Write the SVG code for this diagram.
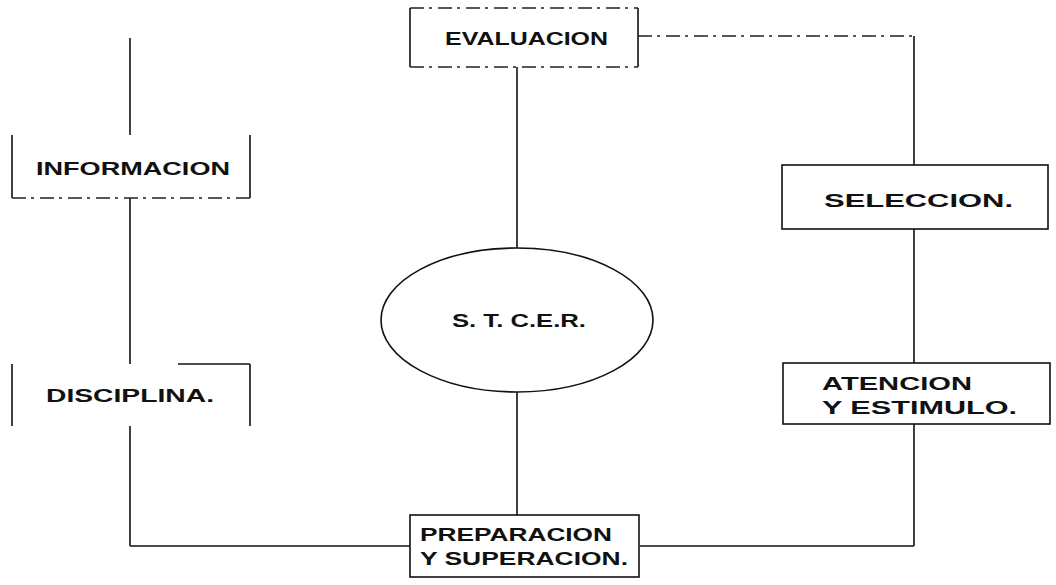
<svg xmlns="http://www.w3.org/2000/svg" width="1056" height="585" viewBox="0 0 1056 585">
<style>
.ln{stroke:#111;stroke-width:1.6;fill:none}
.dash{stroke:#222;stroke-width:1.4;fill:none;stroke-dasharray:14 5 3 6}
.box{stroke:#111;stroke-width:1.6;fill:none}
.t{font-family:"Liberation Sans",Arial,sans-serif;font-weight:bold;font-size:19px;fill:#111}
</style>
<rect width="1056" height="585" fill="#fff"/>
<g id="connectors">
<line class="ln" x1="130" y1="38" x2="130" y2="135"/>
<line class="ln" x1="130" y1="198" x2="130" y2="364"/>
<line class="ln" x1="130" y1="426" x2="130" y2="546"/>
<line class="ln" x1="130" y1="546" x2="410" y2="546"/>
<line class="ln" x1="640" y1="546" x2="914" y2="546"/>
<line class="ln" x1="517" y1="67" x2="517" y2="248"/>
<line class="ln" x1="517" y1="392" x2="517" y2="515"/>
<line class="dash" x1="638" y1="36" x2="914" y2="36"/>
<line class="ln" x1="914" y1="36" x2="914" y2="165"/>
<line class="ln" x1="914" y1="229" x2="914" y2="363"/>
<line class="ln" x1="914" y1="424" x2="914" y2="546"/>
</g>
<g id="evaluacion">
<line class="ln" x1="410" y1="8" x2="410" y2="67"/>
<line class="ln" x1="638" y1="8" x2="638" y2="67"/>
<line class="dash" x1="410" y1="8" x2="638" y2="8"/>
<line class="dash" x1="410" y1="67" x2="638" y2="67"/>
<text class="t" x="445" y="45" textLength="163" lengthAdjust="spacingAndGlyphs">EVALUACION</text>
</g>
<g id="informacion">
<line class="ln" x1="12" y1="135" x2="12" y2="198"/>
<line class="ln" x1="250" y1="135" x2="250" y2="198"/>
<line class="dash" x1="12" y1="198" x2="250" y2="198"/>
<text class="t" x="36" y="175" textLength="194" lengthAdjust="spacingAndGlyphs">INFORMACION</text>
</g>
<g id="disciplina">
<line class="ln" x1="12" y1="364" x2="12" y2="426"/>
<line class="ln" x1="250" y1="364" x2="250" y2="426"/>
<line class="ln" x1="178" y1="364" x2="250" y2="364"/>
<text class="t" x="46" y="402" textLength="168" lengthAdjust="spacingAndGlyphs">DISCIPLINA.</text>
</g>
<g id="seleccion">
<rect class="box" x="782" y="165" width="266" height="64"/>
<text class="t" x="824" y="207" textLength="189" lengthAdjust="spacingAndGlyphs">SELECCION.</text>
</g>
<g id="atencion">
<rect class="box" x="783" y="363" width="267" height="61"/>
<text class="t" x="822" y="390" textLength="150" lengthAdjust="spacingAndGlyphs">ATENCION</text>
<text class="t" x="822" y="414" textLength="195" lengthAdjust="spacingAndGlyphs">Y ESTIMULO.</text>
</g>
<g id="stcer">
<ellipse class="ln" cx="517" cy="320" rx="136" ry="72"/>
<text class="t" x="452" y="327" textLength="134" lengthAdjust="spacingAndGlyphs">S. T. C.E.R.</text>
</g>
<g id="preparacion">
<rect class="box" x="410" y="515" width="229" height="62"/>
<text class="t" x="420" y="541" textLength="192" lengthAdjust="spacingAndGlyphs">PREPARACION</text>
<text class="t" x="420" y="565" textLength="208" lengthAdjust="spacingAndGlyphs">Y SUPERACION.</text>
</g>
</svg>
